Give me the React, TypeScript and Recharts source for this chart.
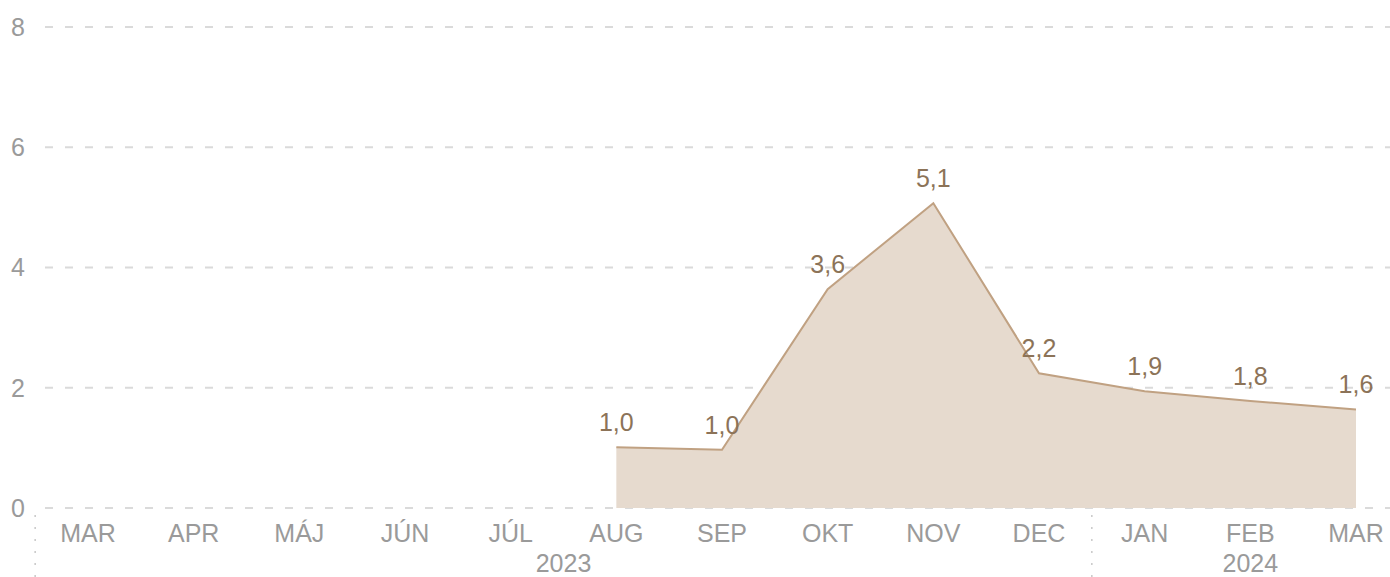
import React from 'react';
import { AreaChart, Area, XAxis, YAxis, CartesianGrid, LabelList } from 'recharts';

const months = ['MAR', 'APR', 'MÁJ', 'JÚN', 'JÚL', 'AUG', 'SEP', 'OKT', 'NOV', 'DEC', 'JAN', 'FEB', 'MAR'];
const values: (number | null)[] = [null, null, null, null, null, 1.01, 0.97, 3.64, 5.07, 2.24, 1.94, 1.78, 1.64];
const yTicks = [0, 2, 4, 6, 8];
const years = [
  { label: '2023', from: 0, to: 9 },
  { label: '2024', from: 10, to: 12 },
];

const data = months.map((m, i) => ({ month: m, value: values[i] }));

const W = 1390;
const H = 577;
const MARGIN = { top: 27, right: 0, bottom: 0, left: 0 };
const Y_W = 45;
const PAD_L = 43;
const PAD_R = 34;
const STEP = (W - MARGIN.left - MARGIN.right - Y_W - PAD_L - PAD_R) / (months.length - 1);

const FONT = '"Liberation Sans", Arial, Helvetica, sans-serif';
const GRAY = '#9a9a9a';

const YearTick = (props: any) => {
  const { x, y, index } = props;
  const els: React.ReactNode[] = [];
  years.forEach((yr) => {
    if (index === yr.from) {
      els.push(
        <line
          key={'d' + yr.label}
          x1={x - STEP / 2}
          x2={x - STEP / 2}
          y1={y - 33}
          y2={y + 29}
          stroke="#c8c8c8"
          strokeWidth={1.5}
          strokeDasharray="2 10"
        />
      );
      els.push(
        <text
          key={'t' + yr.label}
          x={x + ((yr.to - yr.from) / 2) * STEP}
          y={y + 24}
          textAnchor="middle"
          fontSize={25}
          fill={GRAY}
          fontFamily={FONT}
        >
          {yr.label}
        </text>
      );
    }
  });
  return <g>{els}</g>;
};

export default function App() {
  return (
    <div style={{ position: 'absolute', left: 0, top: 0, width: W, height: H, background: '#fff' }}>
      <AreaChart width={W} height={H} data={data} margin={MARGIN}>
        <CartesianGrid vertical={false} stroke="#dadada" strokeWidth={2} strokeDasharray="8 12" />
        <XAxis
          dataKey="month"
          axisLine={false}
          tickLine={false}
          tickSize={0}
          tickMargin={16}
          height={40}
          interval={0}
          padding={{ left: PAD_L, right: PAD_R }}
          tick={{ fontSize: 25, fill: GRAY, fontFamily: FONT }}
        />
        <XAxis
          xAxisId="year"
          dataKey="month"
          axisLine={false}
          tickLine={false}
          tickSize={0}
          tickMargin={0}
          height={29}
          interval={0}
          padding={{ left: PAD_L, right: PAD_R }}
          tick={<YearTick />}
        />
        <YAxis
          domain={[0, 8]}
          ticks={yTicks}
          width={Y_W}
          axisLine={false}
          tickLine={false}
          tickSize={0}
          tickMargin={20}
          interval={0}
          tick={{ fontSize: 25, fill: GRAY, fontFamily: FONT }}
        />
        <Area
          type="linear"
          dataKey="value"
          stroke="#c0a182"
          strokeWidth={2}
          fill="#e6dace"
          fillOpacity={1}
          connectNulls={false}
          dot={false}
          activeDot={false}
          isAnimationActive={false}
        >
          <LabelList
            dataKey="value"
            position="top"
            offset={16}
            formatter={(v: any) => (v == null ? '' : Number(v).toFixed(1).replace('.', ','))}
            style={{ fontSize: 25, fill: '#8c7358', fontFamily: FONT }}
          />
        </Area>
      </AreaChart>
    </div>
  );
}
